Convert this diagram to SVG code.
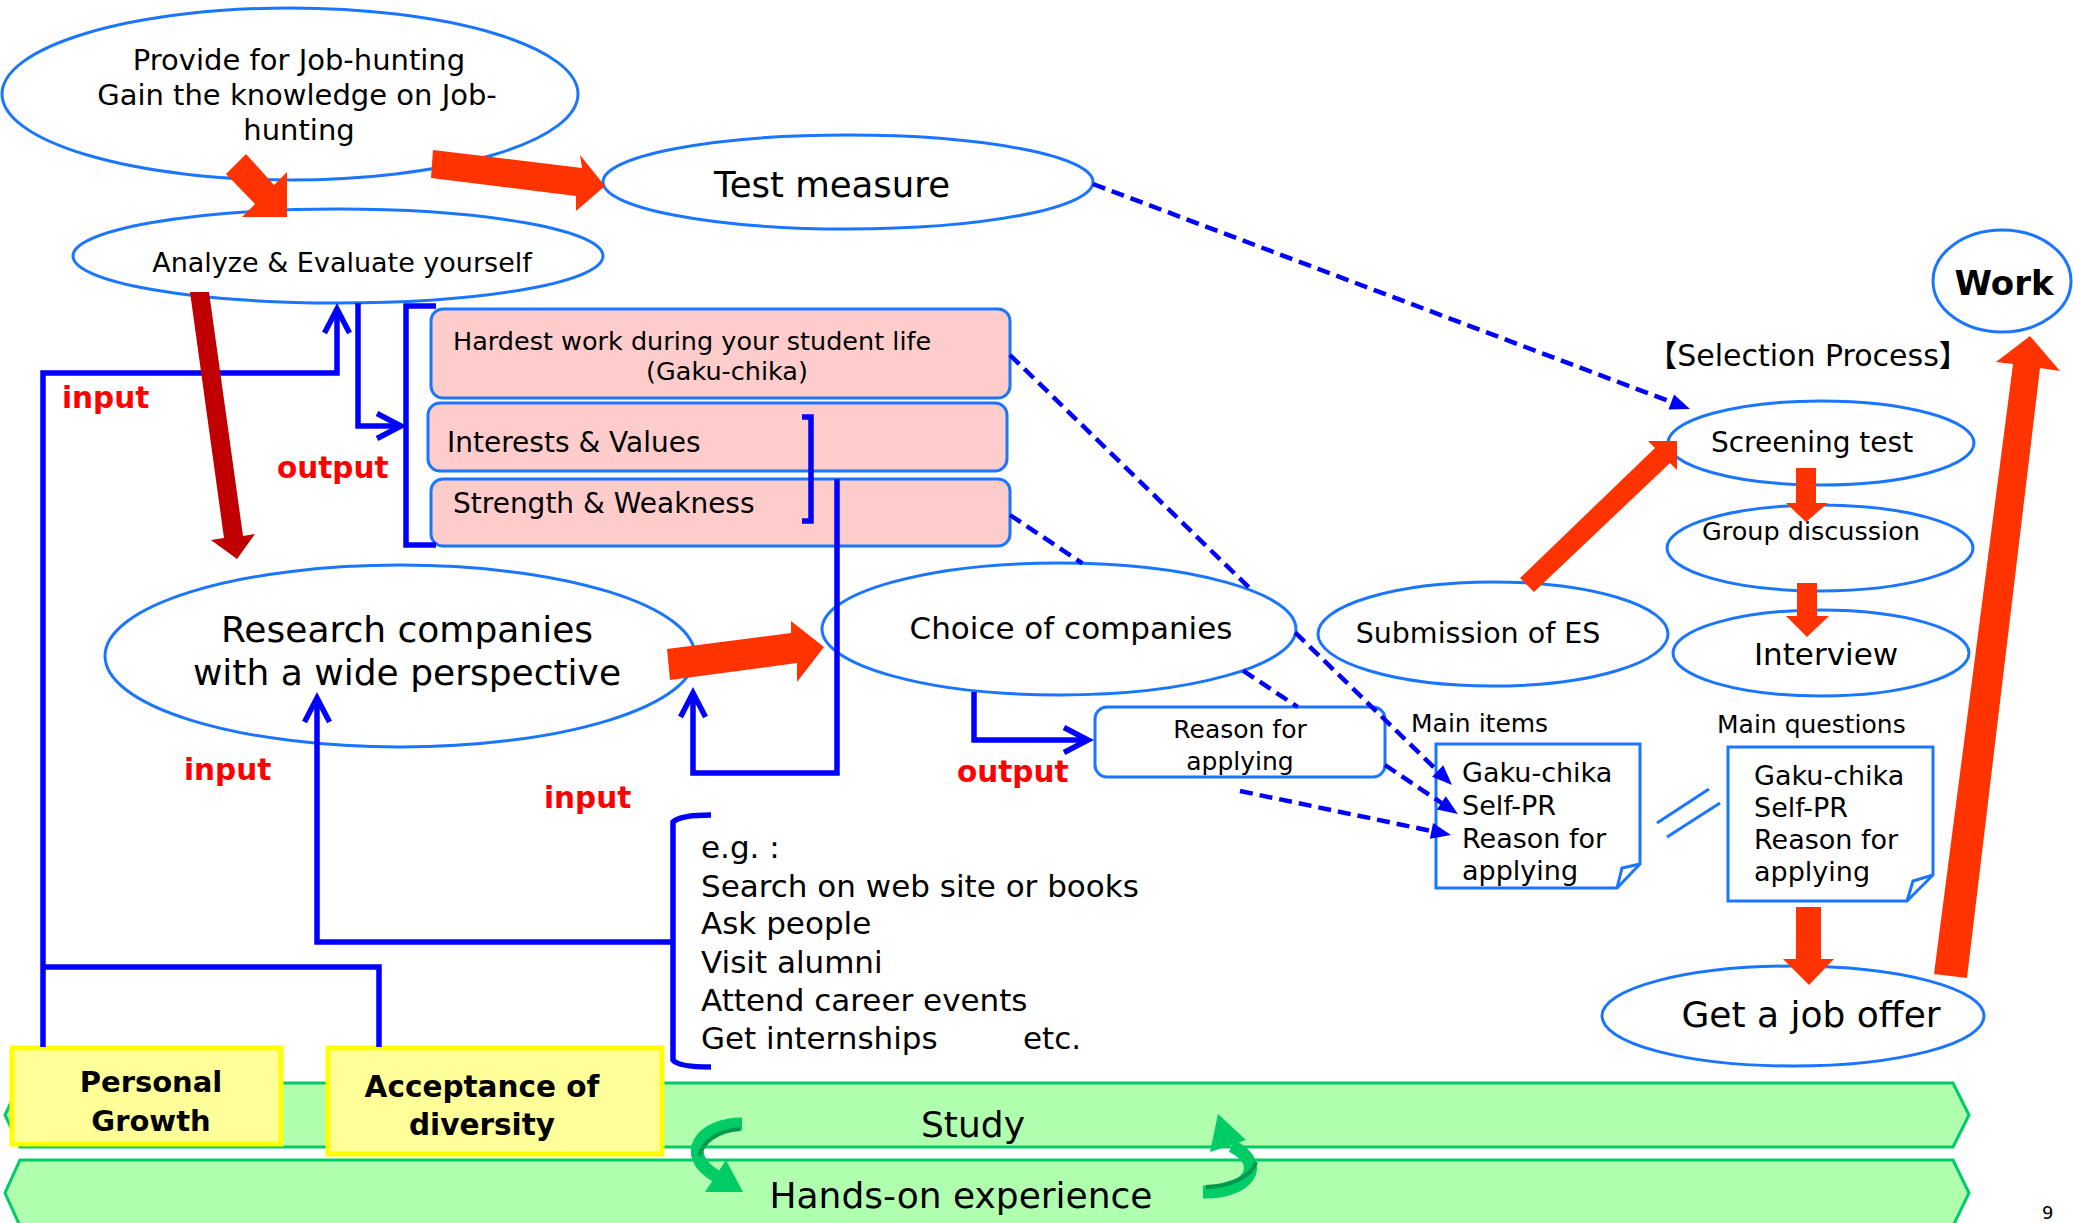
<svg xmlns="http://www.w3.org/2000/svg" width="2073" height="1223" viewBox="0 0 2073 1223">
<style>
.ell{fill:#fff;stroke:#1A75FF;stroke-width:3}
.pink{fill:#FFCCCC;stroke:#1A75FF;stroke-width:3}
.wbox{fill:#fff;stroke:#1A75FF;stroke-width:3}
.t{font-family:"DejaVu Sans","Noto Sans CJK JP",sans-serif;fill:#000}
.b{font-weight:bold}
.lbl{font-family:"DejaVu Sans",sans-serif;font-weight:bold;fill:#FF0000;font-size:29.5px}
.blue{fill:none;stroke:#0000FF;stroke-width:5.5;stroke-linejoin:miter}
.dash{fill:none;stroke:#0000FF;stroke-width:4.5;stroke-dasharray:13 7}
.red{fill:#FF3300}
.band{fill:#AFFFAF;stroke:#00CC66;stroke-width:3}
.yel{fill:#FFFF99;stroke:#FFFF00;stroke-width:5}
.thin{fill:none;stroke:#1A75FF;stroke-width:3}
.garrow{fill:none;stroke:#00CC66;stroke-width:13}
</style>
<defs>
<marker id="chev" viewBox="0 0 24 25" refX="24" refY="12.5" markerWidth="24" markerHeight="25" markerUnits="userSpaceOnUse" orient="auto" overflow="visible">
<path d="M0,0 L24,12.5 L0,25" fill="none" stroke="#0000FF" stroke-width="5.5"/>
</marker>
<marker id="tri" viewBox="0 0 20 16" refX="12" refY="8" markerWidth="20" markerHeight="16" markerUnits="userSpaceOnUse" orient="auto" overflow="visible">
<path d="M0,0 L20,8 L0,16 Z" fill="#0000FF"/>
</marker>
</defs>

<!-- background bands -->
<g id="node-study">
<polygon class="band" points="20,1083 1953,1083 1969,1115 1953,1147 20,1147 5,1115"/>
<text class="t" x="973" y="1137" font-size="36" text-anchor="middle">Study</text>
</g>
<g id="node-handson">
<polygon class="band" points="20,1160 1953,1160 1969,1193 1953,1226 20,1226 5,1193"/>
<text class="t" x="961" y="1208" font-size="36" text-anchor="middle">Hands-on experience</text>
</g>
<g id="cycle-arrows">
<path class="garrow" d="M742,1124 C700,1124 680,1155 716,1176"/>
<polygon fill="#00CC66" points="726,1160 743,1192 705,1192"/>
<path d="M740,1129 C716,1131 703,1142 699,1156" fill="none" stroke="#00994D" stroke-width="4"/>
<path class="garrow" d="M1203,1192 C1248,1193 1268,1165 1232,1146"/>
<polygon fill="#00CC66" points="1246,1140 1218,1114 1210,1152"/>
<path d="M1206,1187 C1232,1186 1252,1176 1256,1162" fill="none" stroke="#00994D" stroke-width="4"/>
</g>

<!-- nodes -->
<g id="node-provide">
<ellipse class="ell" cx="290" cy="94" rx="288" ry="86"/>
<text class="t" font-size="29" text-anchor="middle"><tspan x="299" y="70">Provide for Job-hunting</tspan><tspan x="297" y="105">Gain the knowledge on Job-</tspan><tspan x="299" y="140">hunting</tspan></text>
</g>
<g id="node-analyze">
<ellipse class="ell" cx="338" cy="256" rx="265" ry="47"/>
<text class="t" x="342" y="272" font-size="27" text-anchor="middle">Analyze &amp; Evaluate yourself</text>
</g>
<g id="node-test">
<ellipse class="ell" cx="848" cy="182" rx="245" ry="47"/>
<text class="t" x="832" y="197" font-size="35.5" text-anchor="middle">Test measure</text>
</g>
<g id="node-hardest">
<rect class="pink" x="431" y="309" width="579" height="89" rx="12"/>
<text class="t" x="453" y="350" font-size="25.5">Hardest work during your student life</text>
<text class="t" x="727" y="380" font-size="25.5" text-anchor="middle">(Gaku-chika)</text>
</g>
<g id="node-interests">
<rect class="pink" x="428" y="403" width="579" height="68" rx="12"/>
<text class="t" x="447" y="452" font-size="28">Interests &amp; Values</text>
</g>
<g id="node-strength">
<rect class="pink" x="431" y="479" width="579" height="67" rx="12"/>
<text class="t" x="453" y="513" font-size="28">Strength &amp; Weakness</text>
</g>
<g id="node-research">
<ellipse class="ell" cx="400" cy="656" rx="295" ry="91"/>
<text class="t" font-size="36" text-anchor="middle"><tspan x="407" y="642">Research companies</tspan><tspan x="407" y="685">with a wide perspective</tspan></text>
</g>
<g id="node-choice">
<ellipse class="ell" cx="1059" cy="629" rx="237" ry="66"/>
<text class="t" x="1071" y="639" font-size="31" text-anchor="middle">Choice of companies</text>
</g>
<g id="node-reason">
<rect class="wbox" x="1095" y="707" width="290" height="70" rx="12"/>
<text class="t" font-size="25" text-anchor="middle"><tspan x="1240" y="738">Reason for</tspan><tspan x="1240" y="770">applying</tspan></text>
</g>
<g id="node-submission">
<ellipse class="ell" cx="1493" cy="634" rx="175" ry="52"/>
<text class="t" x="1478" y="643" font-size="28.5" text-anchor="middle">Submission of ES</text>
</g>
<g id="node-selection-title">
<text class="t" x="1808" y="366" font-size="30" text-anchor="middle">【Selection Process】</text>
</g>
<g id="node-screening">
<ellipse class="ell" cx="1821" cy="443" rx="153" ry="42"/>
<text class="t" x="1812" y="452" font-size="28" text-anchor="middle">Screening test</text>
</g>
<g id="node-group">
<ellipse class="ell" cx="1820" cy="548" rx="153" ry="43"/>
<text class="t" x="1811" y="540" font-size="25.5" text-anchor="middle">Group discussion</text>
</g>
<g id="node-interview">
<ellipse class="ell" cx="1821" cy="653" rx="148" ry="43"/>
<text class="t" x="1826" y="665" font-size="31" text-anchor="middle">Interview</text>
</g>
<g id="node-work">
<ellipse class="ell" cx="2002" cy="281" rx="69" ry="51"/>
<text class="t b" x="2004" y="295" font-size="34" text-anchor="middle">Work</text>
</g>
<g id="node-mainitems">
<text class="t" x="1411" y="732" font-size="25">Main items</text>
<path class="wbox" d="M1436,744 H1640 V864 L1617,888 H1436 Z"/>
<path class="thin" d="M1640,864 L1622,868 L1617,888"/>
<text class="t" font-size="27"><tspan x="1462" y="782">Gaku-chika</tspan><tspan x="1462" y="815">Self-PR</tspan><tspan x="1462" y="848">Reason for</tspan><tspan x="1462" y="880">applying</tspan></text>
</g>
<g id="equals">
<line class="thin" x1="1657" y1="823" x2="1709" y2="789"/>
<line class="thin" x1="1667" y1="837" x2="1720" y2="803"/>
</g>
<g id="node-mainq">
<text class="t" x="1717" y="733" font-size="25">Main questions</text>
<path class="wbox" d="M1728,747 H1933 V875 L1907,901 H1728 Z"/>
<path class="thin" d="M1933,875 L1913,881 L1907,901"/>
<text class="t" font-size="27"><tspan x="1754" y="785">Gaku-chika</tspan><tspan x="1754" y="817">Self-PR</tspan><tspan x="1754" y="849">Reason for</tspan><tspan x="1754" y="881">applying</tspan></text>
</g>
<g id="node-joboffer">
<ellipse class="ell" cx="1793" cy="1016" rx="191" ry="50"/>
<text class="t" x="1811" y="1027" font-size="36" text-anchor="middle">Get a job offer</text>
</g>
<g id="node-eg">
<text class="t" font-size="31"><tspan x="701" y="858">e.g. :</tspan><tspan x="701" y="897">Search on web site or books</tspan><tspan x="701" y="934">Ask people</tspan><tspan x="701" y="973">Visit alumni</tspan><tspan x="701" y="1011">Attend career events</tspan><tspan x="701" y="1049">Get internships</tspan><tspan x="1023" y="1049">etc.</tspan></text>
</g>
<g id="node-personal">
<rect class="yel" x="12" y="1048" width="269" height="96"/>
<text class="t b" font-size="29" text-anchor="middle"><tspan x="151" y="1092">Personal</tspan><tspan x="151" y="1131">Growth</tspan></text>
</g>
<g id="node-acceptance">
<rect class="yel" x="328" y="1048" width="334" height="106"/>
<text class="t b" font-size="29.5" text-anchor="middle"><tspan x="482" y="1097">Acceptance of</tspan><tspan x="482" y="1135">diversity</tspan></text>
</g>

<!-- connectors -->
<g id="connectors">
<path class="blue" d="M436,306 H406 V545 H436"/>
<path class="blue" d="M802,417 H811 V521 H802"/>
<path class="blue" d="M711,815 Q680,815 673,822 V1060 Q678,1067 711,1067"/>
<path class="blue" d="M358,303 V426 H401" marker-end="url(#chev)"/>
<path class="blue" d="M43,1047 V373 H337 V309" marker-end="url(#chev)"/>
<path class="blue" d="M43,967 H379 V1047"/>
<path class="blue" d="M671,942 H317 V698" marker-end="url(#chev)"/>
<path class="blue" d="M837,479 V773 H693 V693" marker-end="url(#chev)"/>
<path class="blue" d="M974,692 V740 H1088" marker-end="url(#chev)"/>
<line class="dash" x1="1093" y1="184" x2="1682.5" y2="406.2" marker-end="url(#tri)"/>
<line class="dash" x1="1010" y1="355" x2="1252.7" y2="591.1"/>
<line class="dash" x1="1295.3" y1="632.6" x2="1446.3" y2="779.4" marker-end="url(#tri)"/>
<line class="dash" x1="1010" y1="515" x2="1082.4" y2="563.3"/>
<line class="dash" x1="1243.1" y1="670.6" x2="1297.7" y2="707"/>
<line class="dash" x1="1385" y1="765" x2="1451.3" y2="809.6" marker-end="url(#tri)"/>
<line class="dash" x1="1240" y1="791" x2="1443.2" y2="833.4" marker-end="url(#tri)"/>
</g>

<!-- flow arrows -->
<g id="flow-arrows">
<polygon class="red" points="246,154 274,185 287,172 287,217 242,217 255,204 226,174"/>
<polygon class="red" points="433,150 582,168 580,155 605,186 576,211 576,196 431,178"/>
<polygon fill="#C00000" points="190,292 209,292 243,536 255,534 237,559 211,540 224,538"/>
<polygon class="red" points="667,649 791,633 791,621 824,647 797,682 797,663 670,680"/>
<polygon class="red" points="1520,578 1655,448 1648,441 1677,441 1677,470 1670,463 1534,592"/>
<polygon class="red" points="1796,468 1816,468 1816,503 1828,503 1806,522 1786,503 1796,503"/>
<polygon class="red" points="1797,583 1817,583 1817,616 1829,616 1807,637 1786,616 1797,616"/>
<polygon class="red" points="1796,907 1821,907 1821,959 1834,959 1809,985 1783,959 1796,959"/>
<polygon class="red" points="1934,974 2013,364 1996,362 2030,336 2060,371 2040,368 1967,978"/>
</g>

<g id="labels">
<text class="lbl" x="62" y="408">input</text>
<text class="lbl" x="277" y="478">output</text>
<text class="lbl" x="184" y="780">input</text>
<text class="lbl" x="544" y="808">input</text>
<text class="lbl" x="957" y="782">output</text>
<text class="t" x="2042" y="1219" font-size="18">9</text>
</g>
</svg>
